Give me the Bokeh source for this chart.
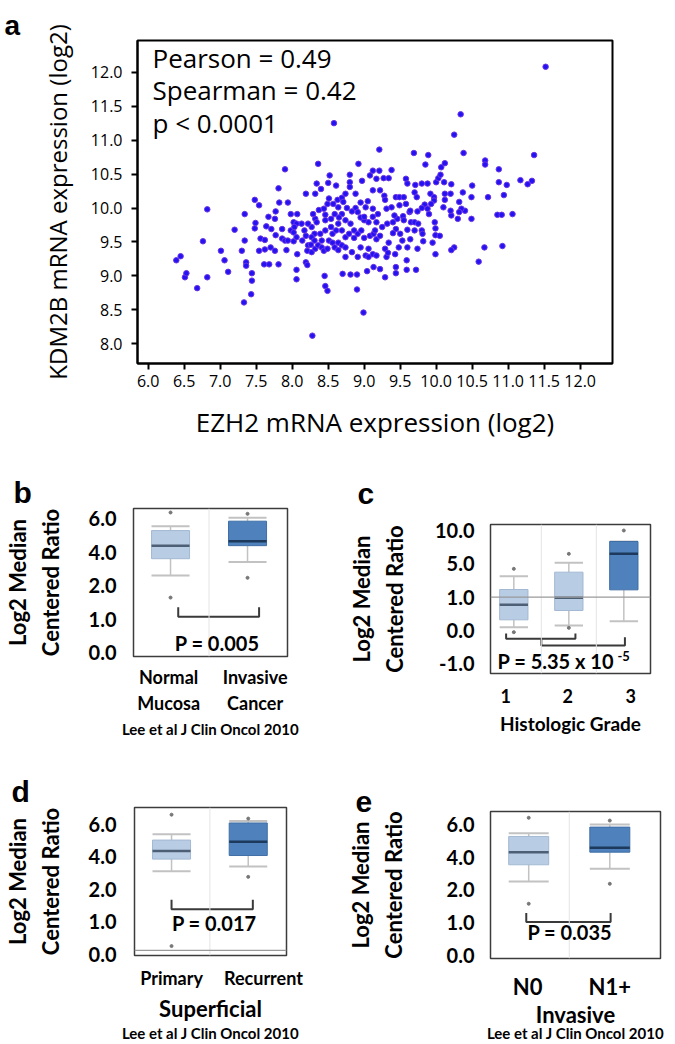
import math
import numpy as np
from bokeh.plotting import figure
from bokeh.models import Label, FixedTicker, NumeralTickFormatter, Range1d, Span, Title, LinearAxis
from bokeh.layouts import column, row
from bokeh.embed import file_html
from bokeh.resources import INLINE

# ---------------- panel a data (EZH2 vs KDM2B, log2) ----------------
ezh2 = [
    11.52, 8.58, 10.34, 10.25, 9.21, 9.69, 9.89, 10.38, 11.36, 10.68,
    10.68, 10.87, 8.92, 8.36, 7.90, 9.85, 10.12, 10.07, 11.17, 11.33,
    11.27, 10.87, 10.98, 10.72, 10.94, 10.49, 10.21, 11.06, 10.85, 10.91,
    10.49, 10.21, 10.30, 9.99, 9.99, 9.98, 10.25, 10.21, 10.67, 10.92,
    10.59, 9.99, 9.72, 9.59, 9.44, 9.44, 9.29, 9.22, 9.13, 9.04,
    8.90, 8.81, 8.70, 8.90, 8.99, 8.28, 8.45, 8.46, 8.49, 8.06,
    8.06, 7.44, 7.44, 7.43, 7.33, 7.11, 7.06, 7.01, 6.82, 6.68,
    6.51, 6.53, 6.39, 6.45, 6.76, 6.82, 7.20, 7.34, 7.30, 7.34,
    7.36, 7.36, 7.48, 7.54, 7.49, 7.48, 7.56, 7.62, 7.54, 7.62,
    7.64, 7.67, 7.77, 7.81, 7.82, 7.94, 7.76, 7.71, 7.61, 7.68,
    7.81, 7.76, 7.92, 7.86, 7.86, 7.98, 7.90, 7.94, 7.98, 8.02,
    8.07, 8.02, 8.07, 8.19, 8.21, 8.19, 8.32, 8.34, 8.40, 8.52,
    8.50, 8.61, 8.51, 8.63, 8.69, 8.74, 8.80, 8.80, 8.88, 8.80,
    8.97, 9.08, 9.12, 9.21, 9.17, 9.27, 9.34, 9.38, 9.12, 9.22,
    9.28, 9.29, 9.44, 9.49, 9.55, 9.58, 9.60, 9.71, 9.80, 9.88,
    9.70, 9.73, 9.92, 9.97, 9.97, 10.00, 10.03, 10.06, 10.11, 10.12,
    10.20, 10.12, 10.32, 10.40, 10.35, 10.37, 10.50, 9.84, 9.80, 9.74,
    9.63, 9.54, 9.46, 9.42, 9.40, 9.55, 9.65, 9.70, 9.75, 9.60,
    9.70, 9.80, 9.81, 9.82, 9.64, 9.53, 9.48, 9.34, 9.29, 9.44,
    9.40, 9.32, 9.25, 9.17, 9.12, 9.19, 9.12, 9.02, 9.05, 8.95,
    8.88, 8.83, 8.76, 8.69, 8.65, 8.59, 8.54, 8.46, 8.46, 8.32,
    8.34, 8.27, 8.22, 8.17, 8.13, 8.06, 8.03, 8.02, 8.06, 8.14,
    8.22, 8.21, 8.27, 8.32, 8.36, 8.41, 8.44, 8.49, 8.51, 8.56,
    8.59, 8.64, 8.64, 8.69, 8.74, 8.74, 8.83, 8.91, 8.95, 9.06,
    9.12, 9.02, 9.06, 9.17, 9.31, 9.33, 9.43, 9.59, 8.56, 8.61,
    8.69, 8.74, 8.79, 8.86, 8.91, 8.86, 8.96, 9.00, 9.08, 9.13,
    9.17, 9.22, 9.15, 9.00, 8.95, 8.91, 9.00, 9.06, 8.81, 8.74,
    8.64, 8.54, 8.46, 8.39, 8.31, 8.27, 8.19, 8.31, 8.41, 8.26,
    8.29, 8.37, 8.44, 8.49, 8.57, 8.64, 8.71, 9.31, 9.38, 9.49,
    9.58, 9.64, 9.50, 9.90, 10.05, 9.95, 9.60, 9.74, 10.20, 10.10,
    9.88, 9.93, 10.32, 7.77, 7.70,
]
kdm2b = [
    12.08, 11.25, 11.38, 11.08, 10.86, 10.81, 10.78, 10.81, 10.78, 10.70,
    10.64, 10.57, 10.65, 10.65, 10.57, 10.64, 10.66, 10.60, 10.41, 10.40,
    10.35, 10.38, 10.34, 10.16, 10.19, 10.16, 10.35, 9.91, 9.90, 9.90,
    9.84, 9.89, 9.84, 9.60, 9.70, 9.79, 9.42, 9.38, 9.42, 9.44,
    9.21, 9.32, 9.09, 9.09, 9.13, 9.04, 8.98, 9.10, 9.13, 9.07,
    9.02, 9.02, 9.03, 8.80, 8.46, 8.12, 9.00, 8.85, 8.78, 9.09,
    8.95, 9.04, 8.93, 8.73, 8.61, 9.06, 9.23, 9.37, 8.98, 8.82,
    8.98, 9.04, 9.23, 9.29, 9.51, 9.98, 9.68, 9.91, 9.37, 9.52,
    9.20, 9.15, 10.12, 10.04, 9.78, 9.70, 9.55, 9.53, 9.37, 9.39,
    9.73, 9.87, 9.95, 10.29, 10.08, 10.08, 9.84, 9.69, 9.17, 9.17,
    9.17, 9.37, 9.38, 9.55, 9.69, 9.91, 9.52, 9.52, 9.67, 9.79,
    9.91, 9.51, 9.32, 9.20, 9.16, 10.21, 10.21, 10.36, 10.28, 10.48,
    10.37, 10.33, 10.14, 10.12, 10.15, 10.21, 10.38, 10.31, 10.21, 10.49,
    10.40, 10.48, 10.55, 10.55, 10.43, 10.44, 10.44, 10.56, 10.26, 10.26,
    10.18, 10.12, 10.16, 10.16, 10.16, 10.43, 10.36, 10.34, 10.36, 10.36,
    10.23, 10.16, 10.21, 10.16, 10.11, 10.38, 10.44, 10.49, 10.38, 10.21,
    10.21, 10.12, 10.09, 9.96, 9.99, 10.23, 10.33, 10.05, 10.00, 9.95,
    9.94, 9.88, 9.84, 9.89, 9.79, 9.82, 9.79, 9.79, 9.77, 9.68,
    9.67, 9.67, 9.62, 9.51, 9.54, 9.52, 9.42, 9.49, 9.40, 9.69,
    9.63, 9.77, 9.72, 9.79, 9.87, 9.91, 9.99, 10.01, 10.10, 10.08,
    10.00, 9.95, 10.00, 9.91, 9.86, 9.91, 9.84, 9.90, 9.82, 9.84,
    9.79, 9.72, 9.77, 9.67, 9.77, 9.77, 9.72, 9.64, 9.57, 9.52,
    9.45, 9.37, 9.35, 9.40, 9.45, 9.42, 9.37, 9.40, 9.52, 9.49,
    9.42, 9.38, 9.49, 9.45, 9.42, 9.28, 9.35, 9.28, 9.42, 9.40,
    9.32, 9.30, 9.28, 9.30, 9.28, 9.34, 9.32, 9.23, 9.62, 9.67,
    9.67, 9.57, 9.62, 9.67, 9.62, 9.56, 9.67, 9.56, 9.59, 9.62,
    9.54, 9.59, 9.67, 9.82, 9.86, 9.94, 9.87, 9.79, 9.77, 9.82,
    9.77, 9.72, 9.67, 9.62, 9.62, 9.57, 9.59, 9.52, 9.52, 9.46,
    9.91, 9.97, 9.99, 10.06, 10.06, 10.01, 10.09, 9.99, 10.01, 10.04,
    10.06, 9.96, 9.62, 9.91, 9.59, 9.49, 9.42, 9.40, 9.96, 10.01,
    9.99, 10.06, 9.94, 9.60, 9.42,
]
a_xticks = [6.0, 6.5, 7.0, 7.5, 8.0, 8.5, 9.0, 9.5, 10.0, 10.5, 11.0, 11.5, 12.0]
a_yticks = [8.0, 8.5, 9.0, 9.5, 10.0, 10.5, 11.0, 11.5, 12.0]
a_stats = ["Pearson = 0.49", "Spearman = 0.42", "p < 0.0001"]

# ---------------- panel b ----------------
b_groups = ["Normal\nMucosa", "Invasive\nCancer"]
b_ylabels = [0.0, 1.0, 2.0, 4.0, 6.0]
b_q1 = [3.60, 4.38]
b_q3 = [5.28, 5.84]
b_med = [4.38, 4.64]
b_lo = [2.60, 3.40]
b_hi = [5.54, 6.04]
b_dark = [False, True]
b_out_grp = [0, 0, 1, 1]
b_out_val = [6.36, 1.64, 6.28, 2.46]
b_br_x0, b_br_x1, b_br_y, b_br_tipl, b_br_tipr = [0.10], [1.15], [1.07], [1.35], [1.35]
b_ptext = "P = 0.005"

# ---------------- panel c ----------------
c_groups = ["1", "2", "3"]
c_ylabels = [-1.0, 0.0, 1.0, 5.0, 10.0]
c_q1 = [0.32, 0.60, 1.88]
c_q3 = [1.92, 4.00, 8.35]
c_med = [0.77, 0.98, 6.50]
c_lo = [0.10, 0.15, 0.28]
c_hi = [3.52, 5.15, 8.35]
c_dark = [False, False, True]
c_out_grp = [0, 0, 1, 1, 2]
c_out_val = [4.40, -0.05, 6.50, 0.08, 10.0]
c_ref = 1.0
c_br_x0, c_br_x1 = [0.86, 1.50], [2.12, 3.02]
c_br_y, c_br_tipl, c_br_tipr = [-0.25, -0.45], [-0.09, -0.25], [-0.09, -0.20]
c_ptext, c_pexp = "P = 5.35 x 10", "-5"

# ---------------- panel d ----------------
d_groups = ["Primary", "Recurrent"]
d_ylabels = [0.0, 1.0, 2.0, 4.0, 6.0]
d_q1 = [3.86, 4.08]
d_q3 = [5.03, 6.08]
d_med = [4.36, 4.93]
d_lo = [3.11, 3.41]
d_hi = [5.39, 6.20]
d_dark = [False, True]
d_out_grp = [0, 0, 1, 1]
d_out_val = [6.59, 0.26, 6.35, 2.77]
d_ref = 0.13
d_br_x0, d_br_x1, d_br_y, d_br_tipl, d_br_tipr = [0.0], [1.06], [1.39], [1.68], [1.68]
d_ptext = "P = 0.017"

# ---------------- panel e ----------------
e_groups = ["N0", "N1+"]
e_ylabels = [0.0, 1.0, 2.0, 4.0, 6.0]
e_q1 = [3.54, 4.31]
e_q3 = [5.27, 5.84]
e_med = [4.31, 4.58]
e_lo = [2.52, 3.29]
e_hi = [5.47, 6.00]
e_dark = [False, True]
e_out_grp = [0, 0, 1, 1]
e_out_val = [6.41, 1.58, 6.24, 2.38]
e_br_x0, e_br_x1, e_br_y, e_br_tipl, e_br_tipr = [-0.03], [1.01], [1.02], [1.30], [1.30]
e_ptext = "P = 0.035"

source_text = "Lee et al J Clin Oncol 2010"
ylab_line1, ylab_line2 = "Log2 Median", "Centered Ratio"

# ---------------- styles ----------------
FA = "Open Sans"
FB = "Lato"
FL = "Liberation Sans"
LIGHT, LIGHT_EDGE, LIGHT_MED = "#b8cce4", "#a3b8d2", "#4d5f74"
DARK, DARK_EDGE, DARK_MED = "#4f81bd", "#3f6ea5", "#1d3a5c"
WHISK = "#c2c2c2"
OUTC = "#777777"
SEP = "#e4e4e4"
REFC = "#9a9a9a"
BRC = "#3a3a3a"


def make_fig(ox, oy, w, h, ml, mt, mr, mb, xr, yr):
    p = figure(width=w, height=h, x_range=Range1d(*xr), y_range=Range1d(*yr),
               output_backend="svg", toolbar_location=None,
               min_border_left=ml, min_border_top=mt, min_border_right=mr, min_border_bottom=mb)
    p.grid.visible = False
    p.background_fill_color = "white"
    p.border_fill_color = "white"
    L, R, T, B = ox + ml, ox + w - mr, oy + mt, oy + h - mb

    def fx(px):
        return xr[0] + (px - L) / (R - L) * (xr[1] - xr[0])

    def fy(py):
        return yr[1] - (py - T) / (B - T) * (yr[1] - yr[0])

    def dx(dpx):
        return dpx / (R - L) * (xr[1] - xr[0])
    return p, fx, fy, dx


def lab(p, x, y, text, size, font=FB, bold=True, align="center", baseline="middle"):
    p.add_layout(Label(x=x, y=y, text=text, text_font=font, text_font_size=size,
                       text_font_style="bold" if bold else "normal", text_color="black",
                       text_align=align, text_baseline=baseline))


def letter(p, text, offset, standoff, size="30px"):
    p.title = Title(text=text, align="left", offset=offset, standoff=standoff,
                    vertical_align="bottom", text_font=FL, text_font_size=size,
                    text_font_style="bold", text_color="black")


def blank_axis(label, size, standoff):
    ax = LinearAxis(ticker=FixedTicker(ticks=[]), axis_label=label)
    ax.axis_line_color = None
    ax.major_tick_out = 0
    ax.major_tick_in = 0
    ax.minor_tick_out = 0
    ax.minor_tick_in = 0
    ax.major_label_standoff = 0
    ax.axis_label_standoff = standoff
    ax.axis_label_text_font = FB
    ax.axis_label_text_font_style = "bold"
    ax.axis_label_text_font_size = size
    ax.axis_label_text_color = "black"
    return ax


def make_pos(labels):
    lv = np.asarray(labels, float)
    idx = np.arange(len(lv), dtype=float)

    def f(v):
        v = np.asarray(v, float)
        out = np.interp(v, lv, idx)
        out = np.where(v > lv[-1], idx[-1] + (v - lv[-1]) / (lv[-1] - lv[-2]), out)
        out = np.where(v < lv[0], (v - lv[0]) / (lv[1] - lv[0]), out)
        return out
    return f


# ================= panel a =================
pa, fxa, fya, _ = make_fig(0, 0, 675, 448, 137, 40, 63, 85, (5.851, 12.449), (7.710, 12.467))
pa.outline_line_color = "black"
pa.outline_line_width = 2
pa.outline_line_alpha = 1
pa.scatter(ezh2, kdm2b, size=5.5, fill_color="#2412f2", line_color="#6b36e6", line_width=1)
for ax, ticks in ((pa.xaxis[0], a_xticks), (pa.yaxis[0], a_yticks)):
    ax.ticker = FixedTicker(ticks=ticks)
    ax.formatter = NumeralTickFormatter(format="0.0")
    ax.major_tick_out = 6
    ax.major_tick_in = 0
    ax.minor_tick_out = 0
    ax.minor_tick_in = 0
    ax.major_tick_line_width = 2
    ax.major_tick_line_color = "black"
    ax.axis_line_width = 2
    ax.axis_line_color = "black"
    ax.major_label_text_font = FA
    ax.major_label_text_font_size = "16px"
    ax.major_label_text_color = "black"
    ax.axis_label_text_font = FA
    ax.axis_label_text_font_style = "normal"
    ax.axis_label_text_color = "black"
pa.xaxis.major_label_standoff = 5
pa.xaxis.axis_label = "EZH2 mRNA expression (log2)"
pa.xaxis.axis_label_text_font_size = "26px"
pa.xaxis.axis_label_standoff = 14
pa.yaxis.major_label_standoff = 9
pa.yaxis.axis_label = "KDM2B mRNA expression (log2)"
pa.yaxis.axis_label_text_font_size = "24px"
pa.yaxis.axis_label_standoff = 14
for i, t in enumerate(a_stats):
    lab(pa, fxa(152), fya(57 + 32.5 * i), t, "26px", font=FA, bold=False, align="left")
letter(pa, "a", -133, 0, size="28px")


# ================= box panels =================
def box_panel(p, dx, groups, ylabels, q1, q3, med, lo, hi, dark, out_grp, out_val,
              br_x0, br_x1, br_y, br_tipl, br_tipr, box_w, ref=None, label_shift_px=None,
              tick_size="18px", tick_standoff=10, ylab_standoff=17,
              title_standoff=22, title1_standoff=3):
    pos = make_pos(ylabels)
    xs = np.arange(len(groups), dtype=float) + (1.0 if len(groups) == 3 else 0.0)
    p.outline_line_color = "#3c3c3c"
    p.outline_line_width = 1.5
    p.outline_line_alpha = 1
    for m in (xs[:-1] + xs[1:]) / 2:
        p.add_layout(Span(location=float(m), dimension="height", line_color=SEP, line_width=1))
    if ref is not None:
        p.add_layout(Span(location=float(pos(ref)), dimension="width", line_color=REFC, line_width=1.2))
    # whiskers
    p.segment(x0=xs, y0=pos(q3), x1=xs, y1=pos(hi), line_color=WHISK, line_width=1.5)
    p.segment(x0=xs, y0=pos(lo), x1=xs, y1=pos(q1), line_color=WHISK, line_width=1.5)
    # caps
    p.segment(x0=xs - box_w / 2, y0=pos(hi), x1=xs + box_w / 2, y1=pos(hi), line_color=WHISK, line_width=2)
    p.segment(x0=xs - box_w / 2, y0=pos(lo), x1=xs + box_w / 2, y1=pos(lo), line_color=WHISK, line_width=2)
    # boxes
    fills = [DARK if d else LIGHT for d in dark]
    edges = [DARK_EDGE if d else LIGHT_EDGE for d in dark]
    meds = [DARK_MED if d else LIGHT_MED for d in dark]
    p.vbar(x=xs, width=box_w, bottom=pos(q1), top=pos(q3), fill_color=fills, line_color=edges, line_width=1)
    p.segment(x0=xs - box_w / 2, y0=pos(med), x1=xs + box_w / 2, y1=pos(med), line_color=meds, line_width=2.5)
    # outliers
    p.scatter(x=xs[np.asarray(out_grp)], y=pos(out_val), size=3, color=OUTC)
    # brackets
    bx = [[a, a, b, b] for a, b in zip(br_x0, br_x1)]
    by = [[float(pos(tl)), float(pos(y)), float(pos(y)), float(pos(tr))]
          for y, tl, tr in zip(br_y, br_tipl, br_tipr)]
    p.multi_line(xs=bx, ys=by, line_color=BRC, line_width=2)
    # axes
    ya = p.yaxis[0]
    ya.ticker = FixedTicker(ticks=list(range(len(ylabels))))
    ya.major_label_overrides = {i: "%.1f" % v for i, v in enumerate(ylabels)}
    xa = p.xaxis[0]
    shifts = label_shift_px or [0] * len(groups)
    tick_x = [float(x + dx(s)) for x, s in zip(xs, shifts)]
    xa.ticker = FixedTicker(ticks=tick_x)
    xa.major_label_overrides = {t: g for t, g in zip(tick_x, groups)}
    for ax in (xa, ya):
        ax.axis_line_color = None
        ax.major_tick_line_color = None
        ax.minor_tick_line_color = None
        ax.major_tick_out = 0
        ax.major_tick_in = 0
        ax.minor_tick_out = 0
        ax.minor_tick_in = 0
        ax.major_label_text_font = FB
        ax.major_label_text_font_style = "bold"
        ax.major_label_text_color = "black"
        ax.axis_label_text_font = FB
        ax.axis_label_text_font_style = "bold"
        ax.axis_label_text_color = "black"
    ya.major_label_text_font_size = "20px"
    ya.major_label_standoff = ylab_standoff
    ya.axis_label = ylab_line2
    ya.axis_label_text_font_size = "22px"
    ya.axis_label_standoff = title_standoff
    p.add_layout(blank_axis(ylab_line1, "22px", title1_standoff), "left")
    xa.major_label_text_font_size = tick_size
    xa.major_label_standoff = tick_standoff
    return xa


# panel b
pb, fxb, fyb, dxb = make_fig(0, 448, 337, 300, 125, 60, 50, 92, (-0.481, 1.519), (-0.119, 4.299))
xb = box_panel(pb, dxb, b_groups, b_ylabels, b_q1, b_q3, b_med, b_lo, b_hi, b_dark, b_out_grp, b_out_val,
               b_br_x0, b_br_x1, b_br_y, b_br_tipl, b_br_tipr, 0.494, label_shift_px=[-2, 8],
               tick_standoff=9, ylab_standoff=17, title_standoff=22)
xb.axis_label = source_text
xb.axis_label_text_font_size = "15px"
xb.axis_label_standoff = 3
lab(pb, fxb(213), fyb(642.7), b_ptext, "20px")
letter(pb, "b", -120, 0)

# panel c
pc, fxc, fyc, dxc = make_fig(337, 448, 338, 300, 153, 76, 25, 75, (0.576, 3.485), (-0.29, 4.18))
xc = box_panel(pc, dxc, c_groups, c_ylabels, c_q1, c_q3, c_med, c_lo, c_hi, c_dark, c_out_grp, c_out_val,
               c_br_x0, c_br_x1, c_br_y, c_br_tipl, c_br_tipr, 0.515, ref=c_ref, label_shift_px=[-8, -1, 7],
               tick_standoff=15, ylab_standoff=16, title_standoff=24)
xc.axis_label = "Histologic Grade"
xc.axis_label_text_font_size = "19px"
xc.axis_label_standoff = 6
lab(pc, fxc(497), fyc(660), c_ptext, "20px", align="left")
lab(pc, fxc(617), fyc(655), c_pexp, "13px", align="left")
letter(pc, "c", -133, 30)

# panel d
pd_, fxd, fyd, dxd = make_fig(0, 748, 337, 296, 126, 59, 51, 87, (-0.483, 1.499), (-0.03, 4.515))
xd = box_panel(pd_, dxd, d_groups, d_ylabels, d_q1, d_q3, d_med, d_lo, d_hi, d_dark, d_out_grp, d_out_val,
               d_br_x0, d_br_x1, d_br_y, d_br_tipl, d_br_tipr, 0.496, ref=d_ref, label_shift_px=[0, 16],
               tick_standoff=11, ylab_standoff=18, title_standoff=22)
xd.axis_label = "Superficial"
xd.axis_label_text_font_size = "22px"
xd.axis_label_standoff = 3
pd_.add_layout(blank_axis(source_text, "15px", -1), "below")
lab(pd_, fxd(210), fyd(924), d_ptext, "20px")
letter(pd_, "d", -123, 0)

# panel e
pe, fxe, fye, dxe = make_fig(337, 748, 338, 296, 153, 63, 15, 86, (-0.471, 1.625), (-0.092, 4.397))
xe = box_panel(pe, dxe, e_groups, e_ylabels, e_q1, e_q3, e_med, e_lo, e_hi, e_dark, e_out_grp, e_out_val,
               e_br_x0, e_br_x1, e_br_y, e_br_tipl, e_br_tipr, 0.493, label_shift_px=[-1, 0],
               tick_size="22px", tick_standoff=14, ylab_standoff=16, title_standoff=37)
xe.axis_label = "Invasive"
xe.axis_label_text_font_size = "22px"
xe.axis_label_standoff = -2
pe.add_layout(blank_axis(source_text, "15px", -7), "below")
lab(pe, fxe(569.3), fye(931.7), e_ptext, "20px")
letter(pe, "e", -135, 0)

layout = column(pa, row(column(pb), column(pc)), row(column(pd_), column(pe)))
open("out.html", "w").write(file_html(layout, INLINE))
